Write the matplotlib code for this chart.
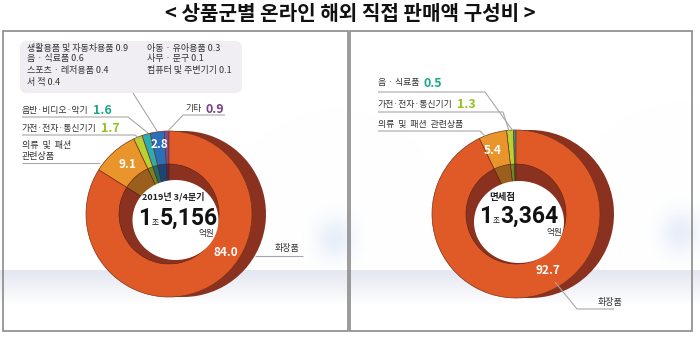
import numpy as np
import matplotlib
matplotlib.use('Agg')
import matplotlib.pyplot as plt
from matplotlib.patches import Rectangle, FancyBboxPatch, Ellipse
from matplotlib import font_manager

plt.rcParams['font.family'] = ['Noto Sans CJK KR', 'DejaVu Sans']

# ---------------- data ----------------
title = "< 상품군별 온라인 해외 직접 판매액 구성비 >"

# left donut (counter-clockwise from 12 o'clock)
left_cats = ["기타", "기타 소계", "음반·비디오·악기", "가전·전자·통신기기", "의류  및  패션\n관련상품", "화장품"]
left_vals = [0.9, 2.8, 1.6, 1.7, 9.1, 84.0]
left_detail_cats = ["생활용품 및 자동차용품", "음 · 식료품", "스포츠 · 레저용품", "서 적",
                    "아동 · 유아용품", "사무 · 문구", "컴퓨터 및 주변기기"]
left_detail_vals = [0.9, 0.6, 0.4, 0.4, 0.3, 0.1, 0.1]
left_period = "2019년 3/4분기"
left_total = ["1", "조", "5,156", "억원"]

# right donut (counter-clockwise from 12 o'clock)
right_cats = ["음 · 식료품", "가전·전자·통신기기", "의류  및  패션  관련상품", "화장품"]
right_vals = [0.5, 1.3, 5.4, 92.7]
right_period = "면세점"
right_total = ["1", "조", "3,364", "억원"]

# ---------------- styling ----------------
left_colors = ['#7b4a96', '#2a70b8', '#2aaeb4', '#b8d232', '#e9952b', '#e05a27']
left_dark = ['#4a2a5c', '#1b4577', '#1a6e72', '#74851f', '#9a5f1d', '#8a3120']
right_colors = ['#1a9a96', '#b8d232', '#e9952b', '#e05a27']
right_dark = ['#156a66', '#74851f', '#9a5f1d', '#8a3120']
SHADOW = '#8a3120'
TXT = '#333333'
LINE = '#a8a8a8'

_names = {f.name for f in font_manager.fontManager.ttflist}
if 'Liberation Sans Narrow' in _names:
    NUM_FONT, NUM_FS = ['Liberation Sans Narrow', 'DejaVu Sans'], 19
else:
    NUM_FONT, NUM_FS = ['Roboto', 'DejaVu Sans'], 16.5

H, W = 338, 700
def Y(y):
    return H - y

fig = plt.figure(figsize=(7.0, 3.38), dpi=100)
ax = fig.add_axes([0, 0, 1, 1])

# background (panel gradient band + soft blue glow)
yy, xx = np.mgrid[0:H, 0:W]
bg = np.ones((H, W, 3))
f = np.where((yy >= 270) & (yy <= 331), np.clip(1 - (yy - 270) / 34.0, 0, 1), 0.0)
tint = np.array([0.895, 0.905, 0.945])
bg = bg * (1 - f[..., None]) + tint * f[..., None]
for bx, by in [(335, 238), (680, 232)]:
    g = np.exp(-(((xx - bx) / 20.0) ** 2 + ((yy - by) / 22.0) ** 2)) * (yy < 268)
    a = 0.45 * g[..., None]
    bg = bg * (1 - a) + np.array([0.80, 0.86, 0.95]) * a
ax.imshow(bg, extent=(0, W, 0, H), origin='upper', zorder=0, interpolation='bilinear')

# panel borders
for x0, x1 in [(3, 348), (349.5, 692)]:
    ax.add_patch(Rectangle((x0, Y(331)), x1 - x0, 300, fill=False,
                           edgecolor='#8a8a8a', lw=1.2, zorder=5))

# title
ax.text(350, Y(14), title, ha='center', va='center', fontsize=14.5, fontweight='bold', color='#111111')


def donut(vals, colors, dark, c, r_out, r_in, hole_c, hole_w, hole_h, shadow_dx):
    cx, cy = c
    # outer 3D side
    ax.pie(vals, colors=[SHADOW] * len(vals), radius=r_out, center=(cx + shadow_dx, Y(cy)),
           startangle=90, counterclock=True, frame=True, wedgeprops=dict(linewidth=0))
    # top face
    wedges, _ = ax.pie(vals, colors=colors, radius=r_out, center=(cx, Y(cy)),
                       startangle=90, counterclock=True, frame=True,
                       wedgeprops=dict(edgecolor='#7a3418', linewidth=0.5))
    # inner 3D wall
    ax.pie(vals, colors=dark, radius=r_in, center=(cx, Y(cy)),
           startangle=90, counterclock=True, frame=True,
           wedgeprops=dict(edgecolor='#5a2010', linewidth=0.4))
    ax.add_patch(Ellipse((hole_c[0], Y(hole_c[1])), hole_w, hole_h,
                         facecolor='white', edgecolor='none', zorder=2))
    return wedges


donut(left_vals, left_colors, left_dark, (169, 214), 83, 50, (175.5, 220), 86, 80, 14)
donut(right_vals, right_colors, right_dark, (516, 214), 84, 50, (519, 222), 90, 82, 14)

# ---------- left panel annotations ----------
box = FancyBboxPatch((20, Y(93)), 222, 52, boxstyle='round,pad=0,rounding_size=7',
                     facecolor='#f0edf3', edgecolor='none', zorder=2)
ax.add_patch(box)
col_x = [27, 147]
rows_y = [48, 59, 70, 82]
for i, (c, v) in enumerate(zip(left_detail_cats, left_detail_vals)):
    colx = col_x[0] if i < 4 else col_x[1]
    rowy = rows_y[i] if i < 4 else rows_y[i - 4]
    ax.text(colx, Y(rowy), f"{c} {v:.1f}", fontsize=6.5, color=TXT, va='center', ha='left', zorder=4)

def label(x, y, name, val, col, fs=6.4):
    t = ax.text(x, Y(y), name, fontsize=fs, color=TXT, va='center', ha='left', zorder=4)
    if val is not None:
        ax.annotate(f"{val:.1f}", xy=(1, 0.45), xycoords=t, xytext=(3, 0), textcoords='offset points',
                    fontsize=9, fontweight='bold', color=col, va='center', ha='left', zorder=4)
    return t

def leader(xs, ys):
    ax.plot(xs, [Y(v) for v in ys], color=LINE, lw=0.8, zorder=3, solid_capstyle='butt')

label(22, 110, left_cats[2], left_vals[2], '#1aa88a')
label(22, 128, left_cats[3], left_vals[3], '#95c11f')
ax.text(22, Y(151), left_cats[4], fontsize=6.5, color=TXT, va='center', ha='left', linespacing=1.35, zorder=4)
label(185, 109, left_cats[0], left_vals[0], '#7a3e8a')
ax.text(275, Y(248), left_cats[5], fontsize=6.5, color=TXT, va='center', ha='left', zorder=4)

leader([133, 157], [93, 131])
leader([22, 128, 148], [117, 117, 133])
leader([22, 135, 140], [135, 135, 139])
leader([22, 100], [163, 163])
leader([225, 183, 168], [115, 115, 131])
leader([255, 303], [256, 256])

# segment values (left)
ax.text(159, Y(145), f"{left_vals[1]:.1f}", color='white', fontsize=8.5, fontweight='bold', ha='center', va='center', zorder=4)
ax.text(127, Y(164), f"{left_vals[4]:.1f}", color='white', fontsize=8.5, fontweight='bold', ha='center', va='center', zorder=4)
ax.text(226, Y(253), f"{left_vals[5]:.1f}", color='white', fontsize=8.5, fontweight='bold', ha='center', va='center', zorder=4)

# centre text (left)
ax.text(173, Y(197), left_period, fontsize=6.5, fontweight='bold', color='#222222', ha='center', va='center', zorder=4)
ax.text(151, Y(225), left_total[0], fontsize=NUM_FS, fontweight='bold', family=NUM_FONT, color='#111111', ha='right', va='baseline', zorder=4)
ax.text(155.5, Y(225), left_total[1], fontsize=5.5, color='#111111', ha='center', va='baseline', zorder=4)
ax.text(160, Y(225), left_total[2], fontsize=NUM_FS, fontweight='bold', family=NUM_FONT, color='#111111', ha='left', va='baseline', zorder=4)
ax.text(214, Y(229), left_total[3], fontsize=6.2, color=TXT, ha='right', va='top', zorder=4)

# ---------- right panel annotations ----------
label(378, 83, right_cats[0], right_vals[0], '#1aa88a')
label(378, 104, right_cats[1], right_vals[1], '#95c11f')
label(378, 124, right_cats[2], None, None)
ax.text(598, Y(302), right_cats[3], fontsize=6.5, color=TXT, va='center', ha='left', zorder=4)

leader([378, 485, 513], [92, 92, 131])
leader([378, 503, 509], [112, 112, 131])
leader([378, 480, 486], [131, 131, 137])
leader([555, 577, 614], [282, 309, 309])

ax.text(493, Y(150), f"{right_vals[2]:.1f}", color='white', fontsize=8.5, fontweight='bold', ha='center', va='center', zorder=4)
ax.text(548, Y(271), f"{right_vals[3]:.1f}", color='white', fontsize=8.5, fontweight='bold', ha='center', va='center', zorder=4)

ax.text(502, Y(197), right_period, fontsize=6.8, fontweight='bold', color='#222222', ha='center', va='center', zorder=4)
ax.text(492, Y(223), right_total[0], fontsize=NUM_FS, fontweight='bold', family=NUM_FONT, color='#111111', ha='right', va='baseline', zorder=4)
ax.text(496, Y(223), right_total[1], fontsize=5.5, color='#111111', ha='center', va='baseline', zorder=4)
ax.text(500, Y(223), right_total[2], fontsize=NUM_FS, fontweight='bold', family=NUM_FONT, color='#111111', ha='left', va='baseline', zorder=4)
ax.text(562, Y(228), right_total[3], fontsize=6.2, color=TXT, ha='right', va='top', zorder=4)

ax.set_xlim(0, W)
ax.set_ylim(0, H)
ax.set_aspect('equal')
ax.axis('off')

fig.savefig('out.png', dpi=100)
